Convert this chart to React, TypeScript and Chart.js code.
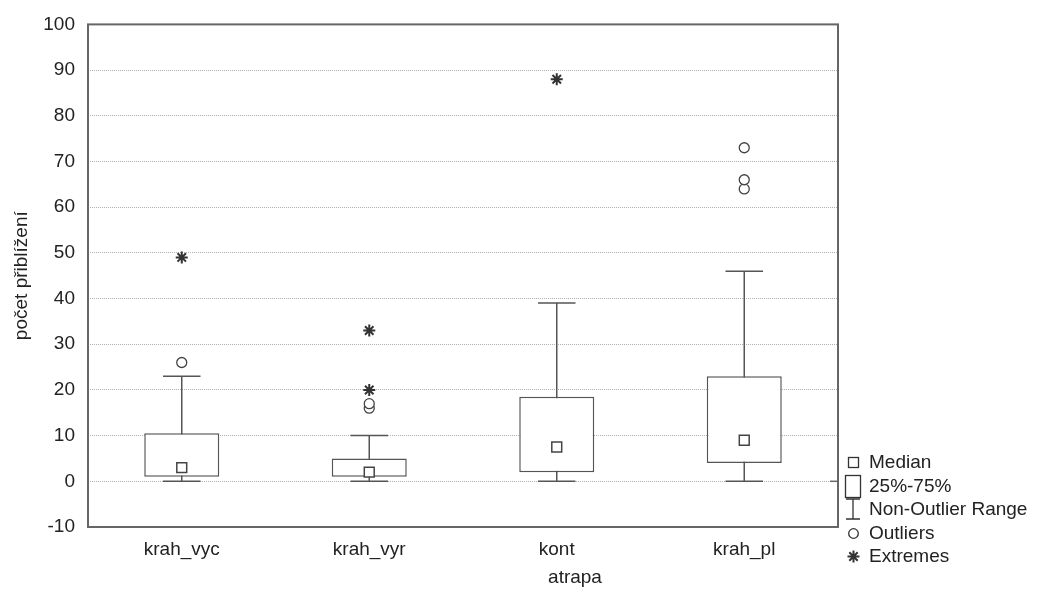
import React, { useEffect, useRef } from "react";
import { Chart, registerables } from "chart.js";

Chart.register(...registerables);

const categories = ["krah_vyc", "krah_vyr", "kont", "krah_pl"];
const q1 = [1, 1, 2, 4];
const q3 = [10.5, 5, 18.5, 23];
const medians = [3, 2, 7.5, 9];
const whiskerMin = [0, 0, 0, 0];
const whiskerMax = [23, 10, 39, 46];
const outliers: number[][] = [[26], [16, 17], [], [64, 66, 73]];
const extremes: number[][] = [[49], [20, 33], [88], []];
const yTicks = { min: -10, max: 100, step: 10 };
const xTitle = "atrapa";
const yTitle = "počet přiblížení";

const FONT = "'Liberation Sans', Arial, Helvetica, sans-serif";
const TEXT = "#222";
const STROKE = "#555";

const whiskerPlugin = {
  id: "whiskers",
  beforeDatasetsDraw(chart: any) {
    const { ctx, scales } = chart;
    const xs = scales.x;
    const ys = scales.y;
    const catW = (xs.right - xs.left) / categories.length;
    const capHalf = catW * 0.1;
    ctx.save();
    ctx.strokeStyle = STROKE;
    ctx.lineWidth = 1.5;
    categories.forEach((_, i) => {
      const x = xs.getPixelForValue(i);
      const yLo = ys.getPixelForValue(whiskerMin[i]);
      const yHi = ys.getPixelForValue(whiskerMax[i]);
      ctx.beginPath();
      ctx.moveTo(x, yLo);
      ctx.lineTo(x, yHi);
      ctx.moveTo(x - capHalf, yLo);
      ctx.lineTo(x + capHalf, yLo);
      ctx.moveTo(x - capHalf, yHi);
      ctx.lineTo(x + capHalf, yHi);
      ctx.stroke();
    });
    ctx.restore();
  },
};

const framePlugin = {
  id: "frame",
  afterDraw(chart: any) {
    const { ctx, chartArea, scales } = chart;
    ctx.save();
    ctx.strokeStyle = "#666";
    ctx.lineWidth = 2;
    ctx.strokeRect(
      chartArea.left,
      chartArea.top,
      chartArea.right - chartArea.left,
      chartArea.bottom - chartArea.top
    );
    const y0 = scales.y.getPixelForValue(0);
    ctx.lineWidth = 1.5;
    ctx.beginPath();
    ctx.moveTo(chartArea.right - 8, y0);
    ctx.lineTo(chartArea.right, y0);
    ctx.stroke();
    ctx.restore();
  },
};

function Legend() {
  const rowH = 23.6;
  const top0 = 450;
  const items: { label: string; icon: React.ReactNode }[] = [
    {
      label: "Median",
      icon: (
        <svg width="20" height="24">
          <rect x="5.5" y="7.5" width="10" height="10" fill="white" stroke="#333" strokeWidth="1.3" />
        </svg>
      ),
    },
    {
      label: "25%-75%",
      icon: (
        <svg width="20" height="26" style={{ marginTop: 2 }}>
          <rect x="2.5" y="1.5" width="15" height="22" fill="white" stroke="#333" strokeWidth="1.3" />
        </svg>
      ),
    },
    {
      label: "Non-Outlier Range",
      icon: (
        <svg width="20" height="24">
          <path d="M3 2 H17 M10 2 V22 M3 22 H17" stroke="#333" strokeWidth="1.3" fill="none" />
        </svg>
      ),
    },
    {
      label: "Outliers",
      icon: (
        <svg width="20" height="24">
          <circle cx="10.5" cy="12.5" r="4.8" fill="white" stroke="#333" strokeWidth="1.3" />
        </svg>
      ),
    },
    {
      label: "Extremes",
      icon: (
        <svg width="20" height="24">
          <path
            d="M10.5 6.5 V18.5 M4.5 12.5 H16.5 M6.3 8.3 L14.7 16.7 M14.7 8.3 L6.3 16.7"
            stroke="#333"
            strokeWidth="2"
            fill="none"
          />
        </svg>
      ),
    },
  ];
  return (
    <>
      {items.map((it, i) => (
        <div
          key={it.label}
          style={{
            position: "absolute",
            left: 843,
            top: top0 + i * rowH,
            height: 24,
            display: "flex",
            alignItems: "center",
            fontFamily: FONT,
            fontSize: 19,
            color: TEXT,
            whiteSpace: "nowrap",
            lineHeight: "24px",
          }}
        >
          <span style={{ width: 26, height: 24, display: "inline-flex", alignItems: "center" }}>{it.icon}</span>
          <span>{it.label}</span>
        </div>
      ))}
    </>
  );
}

export default function App() {
  const canvasRef = useRef<HTMLCanvasElement | null>(null);

  useEffect(() => {
    if (!canvasRef.current) return;
    const outlierPts: { x: string; y: number }[] = [];
    outliers.forEach((arr, i) => arr.forEach((v) => outlierPts.push({ x: categories[i], y: v })));
    const extremePts: { x: string; y: number }[] = [];
    extremes.forEach((arr, i) => arr.forEach((v) => extremePts.push({ x: categories[i], y: v })));

    const chart = new Chart(canvasRef.current, {
      type: "bar",
      data: {
        labels: categories,
        datasets: [
          {
            type: "bar",
            label: "25%-75%",
            data: categories.map((_, i) => [q1[i], q3[i]]) as any,
            backgroundColor: "#ffffff",
            borderColor: STROKE,
            borderWidth: 1.5,
            borderSkipped: false,
            barPercentage: 0.4,
            categoryPercentage: 1,
            order: 3,
          } as any,
          {
            type: "line",
            label: "Median",
            data: categories.map((c, i) => ({ x: c, y: medians[i] })) as any,
            showLine: false,
            pointStyle: "rect",
            pointRadius: 7,
            pointBackgroundColor: "#ffffff",
            pointBorderColor: "#444",
            pointBorderWidth: 1.5,
            order: 2,
          } as any,
          {
            type: "line",
            label: "Outliers",
            data: outlierPts as any,
            showLine: false,
            pointStyle: "circle",
            pointRadius: 5,
            pointBackgroundColor: "#ffffff",
            pointBorderColor: "#444",
            pointBorderWidth: 1.3,
            order: 1,
          } as any,
          {
            type: "line",
            label: "Extremes",
            data: extremePts as any,
            showLine: false,
            pointStyle: "star",
            pointRadius: 6,
            pointBorderColor: "#333",
            pointBorderWidth: 2,
            order: 0,
          } as any,
        ],
      },
      options: {
        responsive: false,
        animation: false,
        layout: { padding: { top: 22, right: 204, bottom: 0, left: 0 } },
        plugins: {
          legend: { display: false },
          tooltip: { enabled: false },
        },
        scales: {
          x: {
            type: "category",
            offset: true,
            grid: { display: false, drawTicks: false },
            border: { display: false },
            ticks: {
              color: TEXT,
              font: { family: FONT, size: 19 },
              padding: 11,
              maxRotation: 0,
            },
            afterFit(scale: any) {
              scale.height = 67;
            },
          },
          y: {
            type: "linear",
            min: yTicks.min,
            max: yTicks.max,
            grid: {
              color: "#b0b0b0",
              lineWidth: 1,
              drawTicks: false,
            },
            border: { display: false, dash: [1, 1] },
            ticks: {
              stepSize: yTicks.step,
              color: TEXT,
              font: { family: FONT, size: 19 },
              padding: 13,
            },
            title: {
              display: true,
              text: yTitle,
              color: TEXT,
              font: { family: FONT, size: 19 },
              padding: { top: 10, bottom: 0 },
            },
            afterFit(scale: any) {
              scale.width = 88;
            },
          },
        },
      },
      plugins: [whiskerPlugin, framePlugin],
    });
    return () => chart.destroy();
  }, []);

  return (
    <div style={{ position: "fixed", left: 0, top: 0, width: 1042, height: 594, background: "#fff" }}>
      <canvas ref={canvasRef} width={1042} height={594} style={{ display: "block", width: 1042, height: 594 }} />
      <div
        style={{
          position: "absolute",
          left: 475,
          width: 200,
          top: 565,
          textAlign: "center",
          fontFamily: FONT,
          fontSize: 19,
          color: TEXT,
          lineHeight: "24px",
        }}
      >
        {xTitle}
      </div>
      <Legend />
    </div>
  );
}
